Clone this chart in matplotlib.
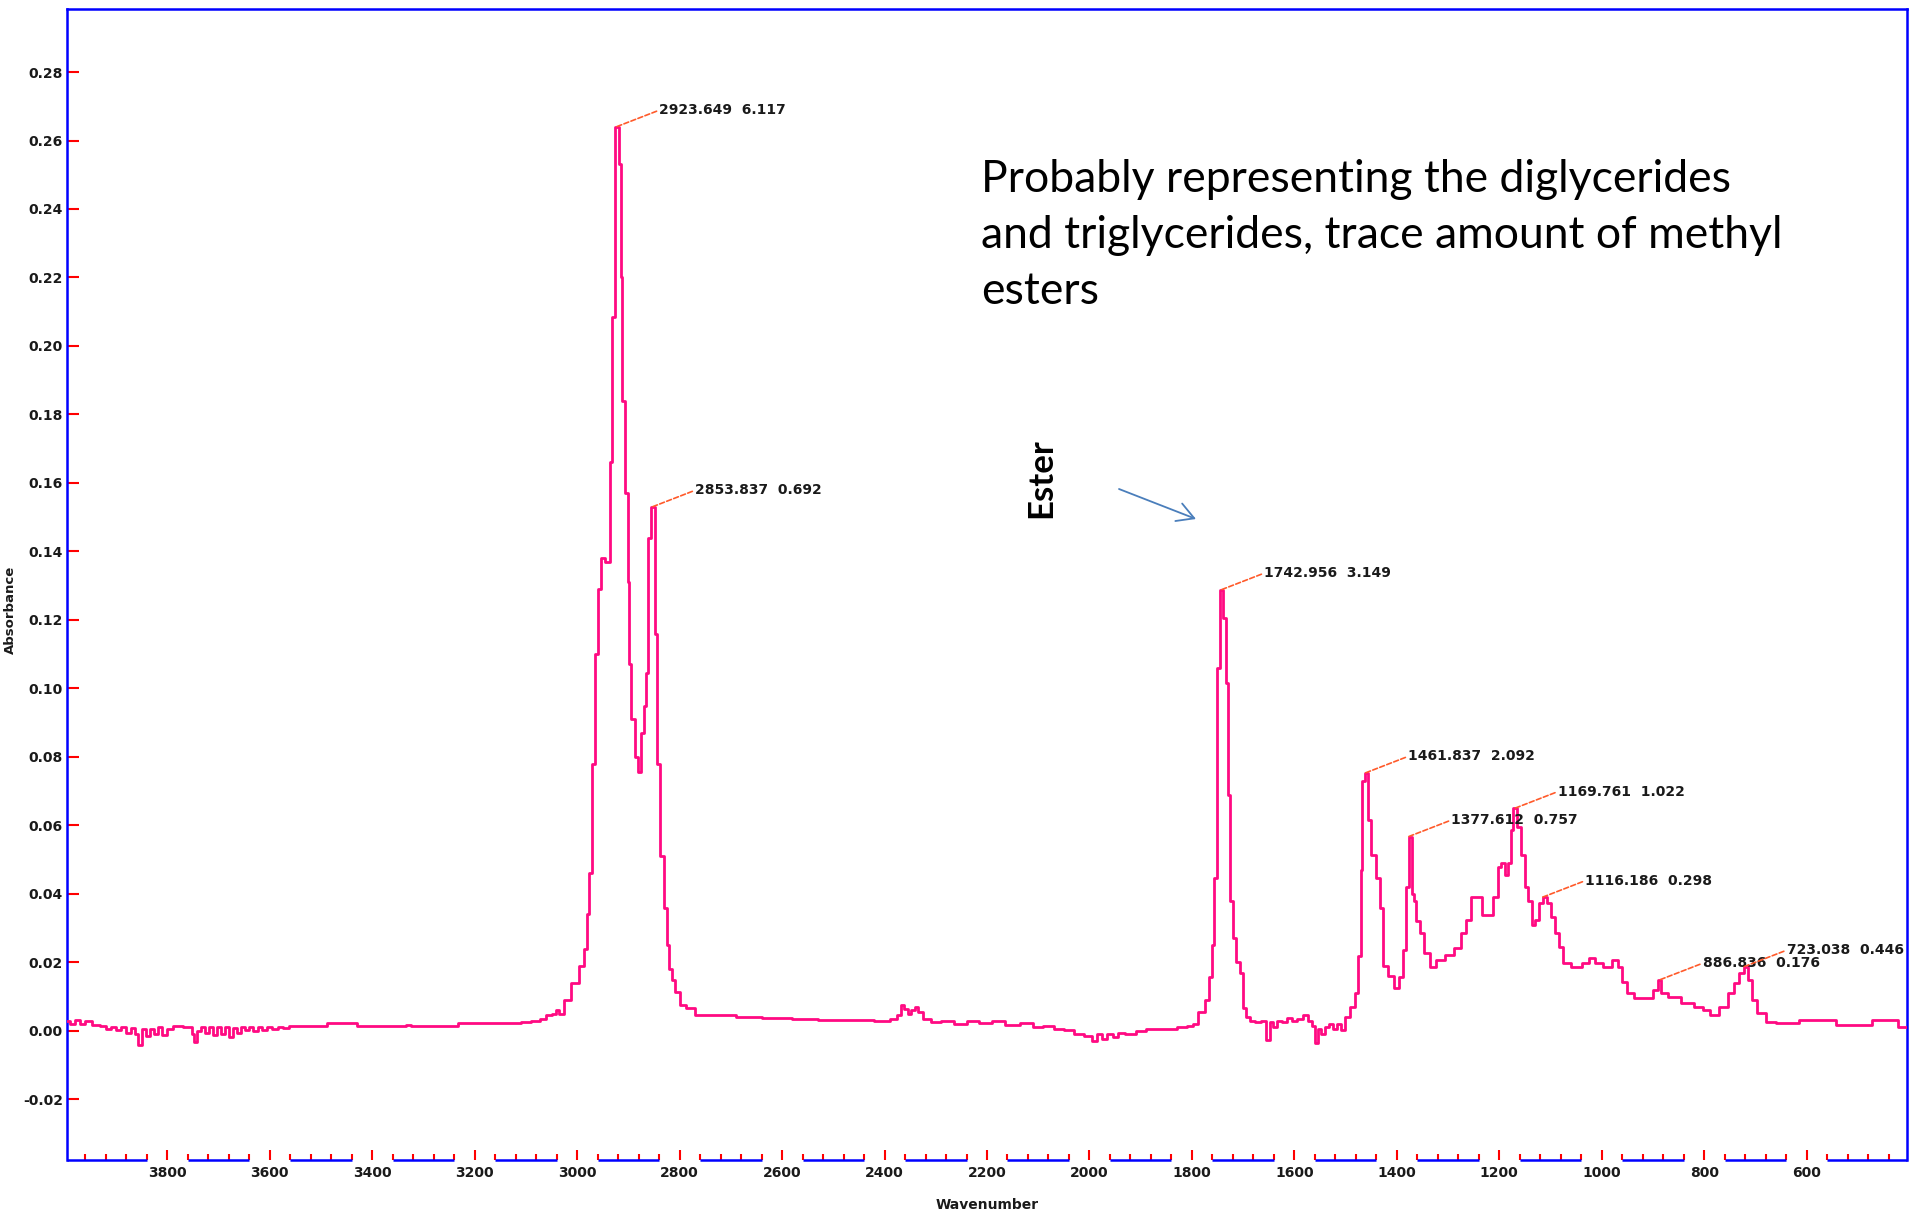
import numpy as np
import matplotlib.pyplot as plt
from matplotlib.ticker import MultipleLocator, FixedLocator

plt.rcParams['axes.unicode_minus'] = False

# --- spectrum (wavenumber, absorbance) ---
# high wavenumber baseline
wn_base = [3996, 3985, 3975, 3965, 3955, 3940, 3925, 3915, 3905, 3895, 3885, 3875,
           3868, 3860, 3853, 3846, 3838, 3830, 3822, 3815, 3805, 3795, 3785, 3775,
           3765, 3755, 3750, 3745, 3738, 3730, 3722, 3715, 3708, 3700, 3692, 3685,
           3676, 3668, 3660, 3652, 3645, 3636, 3628, 3620, 3610, 3600, 3590, 3580,
           3570, 3555, 3520, 3490, 3486, 3440, 3420, 3340, 3330, 3320, 3240, 3225,
           3120, 3100, 3080, 3065, 3055, 3045, 3038]
ab_base = [0.0030, 0.0020, 0.0032, 0.0020, 0.0030, 0.0018, 0.0015, 0.0005, 0.0012,
           0.0002, 0.0010, -0.0005, 0.0008, -0.0010, -0.0040, 0.0005, -0.0015, 0.0005,
           -0.0008, 0.0010, -0.0012, 0.0005, 0.0015, 0.0015, 0.0010, 0.0012, -0.0010,
           -0.0032, 0.0000, 0.0010, -0.0005, 0.0012, -0.0012, 0.0010, -0.0008, 0.0012,
           -0.0018, 0.0008, -0.0005, 0.0012, 0.0002, 0.0010, 0.0000, 0.0012, 0.0003,
           0.0010, 0.0005, 0.0012, 0.0008, 0.0015, 0.0015, 0.0015, 0.0023, 0.0023,
           0.0015, 0.0015, 0.0018, 0.0015, 0.0015, 0.0023, 0.0023, 0.0025, 0.0030,
           0.0035, 0.0045, 0.0050, 0.0060]

# C-H stretch region
wn_ch = [3033, 3020, 3004, 2990, 2984, 2979, 2973, 2969, 2961, 2957, 2949, 2943,
         2938, 2934, 2930, 2922, 2916, 2914, 2910, 2903, 2899, 2897, 2891, 2885,
         2879, 2873, 2867, 2863, 2859, 2852, 2846, 2842, 2834, 2826, 2823, 2817,
         2813, 2805, 2795, 2780, 2760]
ab_ch = [0.0050, 0.0090, 0.0140, 0.0190, 0.0240, 0.0340, 0.0460, 0.0780, 0.1100,
         0.1290, 0.1380, 0.1370, 0.1370, 0.1660, 0.2085, 0.2640, 0.2530, 0.2200,
         0.1840, 0.1570, 0.1310, 0.1070, 0.0910, 0.0800, 0.0756, 0.0870, 0.0950,
         0.1045, 0.1440, 0.1530, 0.1160, 0.0780, 0.0510, 0.0360, 0.0250, 0.0180,
         0.0150, 0.0114, 0.0076, 0.0067, 0.0047]

# middle region
wn_mid = [2740, 2700, 2680, 2600, 2560, 2500, 2440, 2400, 2380, 2370, 2365, 2358,
          2352, 2345, 2338, 2330, 2320, 2300, 2280, 2250, 2230, 2200, 2180, 2150,
          2120, 2100, 2080, 2060, 2040, 2020, 2000, 1990, 1980, 1970, 1960, 1950,
          1940, 1920, 1900, 1880, 1860, 1840, 1820, 1800]
ab_mid = [0.0045, 0.0045, 0.0040, 0.0038, 0.0035, 0.0032, 0.0032, 0.0030, 0.0035,
          0.0045, 0.0075, 0.0065, 0.0050, 0.0060, 0.0070, 0.0055, 0.0035, 0.0025,
          0.0030, 0.0020, 0.0030, 0.0022, 0.0028, 0.0018, 0.0022, 0.0012, 0.0015,
          0.0005, 0.0002, -0.0010, -0.0015, -0.0030, -0.0010, -0.0025, -0.0008,
          -0.0018, -0.0005, -0.0010, 0.0000, 0.0005, 0.0005, 0.0005, 0.0010, 0.0015]

# ester C=O and the gap to the fingerprint region
wn_ester = [1794, 1781, 1769, 1763, 1759, 1753, 1748, 1742, 1736, 1732, 1728, 1722,
            1716, 1710, 1703, 1697, 1690, 1683, 1670, 1660, 1652, 1645, 1640, 1629,
            1620, 1609, 1600, 1590, 1576, 1570, 1562, 1556, 1550, 1545, 1537, 1528,
            1520, 1512, 1506, 1498, 1486, 1478, 1472, 1469, 1465]
ab_ester = [0.0020, 0.0055, 0.0090, 0.0158, 0.0251, 0.0447, 0.1060, 0.1288, 0.1206,
            0.1016, 0.0690, 0.0380, 0.0270, 0.0200, 0.0170, 0.0067, 0.0040, 0.0030,
            0.0025, 0.0030, -0.0026, 0.0025, 0.0010, 0.0030, 0.0025, 0.0038, 0.0030,
            0.0035, 0.0047, 0.0030, 0.0015, -0.0035, 0.0005, -0.0010, 0.0010, 0.0020,
            0.0005, 0.0020, 0.0003, 0.0040, 0.0070, 0.0110, 0.0220, 0.0470, 0.0730]

# fingerprint region
wn_fp = [1459, 1453, 1447, 1435, 1430, 1424, 1410, 1400, 1391, 1385, 1379, 1373,
         1369, 1365, 1360, 1351, 1342, 1330, 1317, 1295, 1282, 1268, 1260, 1250,
         1238, 1229, 1219, 1207, 1199, 1193, 1186, 1180, 1176, 1170, 1162, 1154,
         1147, 1141, 1133, 1127, 1119, 1112, 1102, 1094, 1088, 1080, 1071, 1050,
         1028, 1022, 1006, 987, 971, 965, 957, 944, 930, 905, 895, 887, 880, 860,
         831, 809, 796, 782, 761, 747, 738, 725, 719, 711, 704, 690, 669, 649, 579,
         507, 438, 405]
ab_fp = [0.0753, 0.0616, 0.0514, 0.0447, 0.0360, 0.0190, 0.0160, 0.0126, 0.0158,
         0.0237, 0.0420, 0.0567, 0.0400, 0.0380, 0.0320, 0.0286, 0.0228, 0.0187,
         0.0207, 0.0222, 0.0242, 0.0286, 0.0324, 0.0390, 0.0390, 0.0339, 0.0339,
         0.0390, 0.0480, 0.0490, 0.0456, 0.0490, 0.0587, 0.0650, 0.0596, 0.0514,
         0.0420, 0.0380, 0.0310, 0.0324, 0.0374, 0.0390, 0.0374, 0.0333, 0.0286,
         0.0245, 0.0199, 0.0187, 0.0199, 0.0213, 0.0199, 0.0187, 0.0207, 0.0187,
         0.0143, 0.0110, 0.0096, 0.0096, 0.0120, 0.0149, 0.0110, 0.0099, 0.0082,
         0.0070, 0.0061, 0.0047, 0.0070, 0.0110, 0.0140, 0.0169, 0.0187, 0.0149,
         0.0090, 0.0053, 0.0026, 0.0023, 0.0032, 0.0018, 0.0032, 0.0012]

# labelled peaks
peak_wn = [2923.649, 2853.837, 1742.956, 1461.837, 1377.612, 1169.761, 1116.186, 886.836, 723.038]
peak_val = [6.117, 0.692, 3.149, 2.092, 0.757, 1.022, 0.298, 0.176, 0.446]
peak_abs = [0.2640, 0.1530, 0.1288, 0.0753, 0.0567, 0.0650, 0.0390, 0.0149, 0.0187]

wn = np.array(wn_base + wn_ch + wn_mid + wn_ester + wn_fp)
ab = np.array(ab_base + ab_ch + ab_mid + ab_ester + ab_fp)

fig = plt.figure(figsize=(19.15, 12.16), dpi=100)
ax = fig.add_axes([67/1915, 1 - 1160/1216, 1840/1915, 1151/1216])

ax.plot(wn, ab, color='#ff0a82', lw=2.0, drawstyle='steps-mid', zorder=3)

xmax, xmin = 3996, 404
ax.set_xlim(xmax, xmin)
ax.set_ylim(-0.0377, 0.2984)

# axes frame / ticks
for s in ['left', 'top', 'right']:
    ax.spines[s].set_color('#0000ff')
    ax.spines[s].set_linewidth(1.8)
ax.spines['bottom'].set_visible(False)

majors = np.arange(3800, 599, -200)
ax.xaxis.set_major_locator(FixedLocator(majors))
ax.xaxis.set_minor_locator(MultipleLocator(40))
ax.yaxis.set_major_locator(FixedLocator(np.round(np.arange(-0.02, 0.2801, 0.02), 2)))
ax.yaxis.set_major_formatter(plt.FormatStrFormatter('%.2f'))

small = dict(size=10, weight='bold')
ax.tick_params(axis='y', direction='in', length=8.5, width=1.5, color='#ff0000',
               labelsize=10, pad=3, labelcolor='#1a1a1a')
ax.tick_params(axis='x', which='major', direction='in', length=7.5, width=1.5,
               color='#ff0000', labelsize=10, pad=4, labelcolor='#1a1a1a')
ax.tick_params(axis='x', which='minor', direction='in', length=4.5, width=1.5, color='#ff0000')
for lab in ax.get_xticklabels() + ax.get_yticklabels():
    lab.set_fontweight('bold')

# broken bottom axis line, with gaps under the major labels
edges = [xmax] + [v for m in majors for v in (m + 40, m - 40)] + [xmin]
for a, b in zip(edges[0::2], edges[1::2]):
    ax.hlines(0, a, b, transform=ax.get_xaxis_transform(), colors='#0000ff',
              lw=1.8, clip_on=False, zorder=4)

ax.set_xlabel('Wavenumber', color='#1a1a1a', **small)
ax.set_ylabel('Absorbance', color='#1a1a1a', size=9.5, weight='bold')
ax.xaxis.set_label_coords(0.5, -0.033)
ax.yaxis.set_label_coords(-0.027, 0.478)

# peak labels
for w, v, a in zip(peak_wn, peak_val, peak_abs):
    ax.annotate('%.3f  %.3f' % (w, v), xy=(w, a), xytext=(31, 12),
                textcoords='offset points', ha='left', va='center',
                color='#1a1a1a', annotation_clip=False, **small,
                arrowprops=dict(arrowstyle='-', color='#ff5a2a', lw=1.2,
                                linestyle=(0, (3, 1.5)), shrinkA=0, shrinkB=0,
                                relpos=(0, 0.5)))

# slide annotations
fig.text(981/1915, 1 - 159/1216,
         'Probably representing the diglycerides\nand triglycerides, trace amount of methyl\nesters',
         fontsize=32, family='Lato', ha='left', va='top', linespacing=1.45, color='black')
fig.text(1041/1915, 1 - 478/1216, 'Ester', rotation=90, fontsize=25, family='Lato',
         fontweight='bold', ha='center', va='center', color='black')
ax.annotate('', xy=(1196/1915, 1 - 519/1216), xytext=(1119/1915, 1 - 489/1216),
            xycoords='figure fraction', textcoords='figure fraction',
            arrowprops=dict(arrowstyle='->,head_length=0.8,head_width=0.45',
                            color='#4a7ebb', lw=1.3, mutation_scale=15,
                            shrinkA=0, shrinkB=0))

fig.savefig('out.png', dpi=100)
